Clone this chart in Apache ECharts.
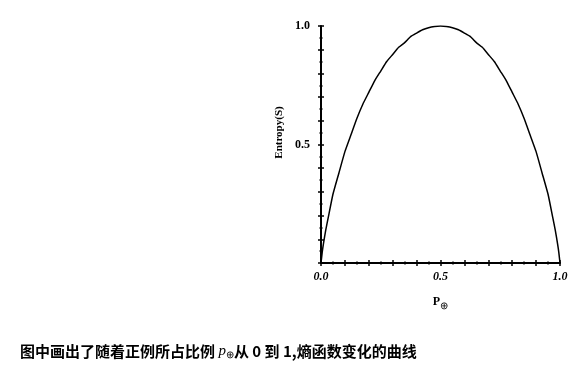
<!DOCTYPE html>
<html><head><meta charset="utf-8">
<script src="https://cdn.jsdelivr.net/npm/echarts@6/dist/echarts.min.js"></script>
<style>html,body{margin:0;padding:0;background:#fff}#c{width:586px;height:369px}</style>
</head><body><div id="c"></div>
<script>
// proportion of positive examples p and entropy values
const pValues = [0, 0.005, 0.01, 0.02, 0.03, 0.05, 0.075, 0.1, 0.125, 0.15, 0.175, 0.2, 0.225, 0.25, 0.275, 0.3, 0.325, 0.35, 0.375, 0.4, 0.425, 0.45, 0.475, 0.5,
  0.525, 0.55, 0.575, 0.6, 0.625, 0.65, 0.675, 0.7, 0.725, 0.75, 0.775, 0.8, 0.825, 0.85, 0.875, 0.9, 0.925, 0.95, 0.97, 0.98, 0.99, 0.995, 1];
const entropyValues = [0, 0.045, 0.08, 0.14, 0.19, 0.29, 0.38, 0.47, 0.54, 0.61, 0.67, 0.72, 0.77, 0.81, 0.85, 0.88, 0.91, 0.93, 0.955, 0.97, 0.984, 0.993, 0.998, 1.0,
  0.998, 0.993, 0.984, 0.97, 0.955, 0.93, 0.91, 0.88, 0.85, 0.81, 0.77, 0.72, 0.67, 0.61, 0.54, 0.47, 0.38, 0.29, 0.19, 0.14, 0.08, 0.045, 0];
const xTickLabels = ['0.0', '0.5', '1.0'];
const xTickValues = [0, 0.5, 1];
const yTickLabels = ['0.5', '1.0'];
const yTickValues = [0.5, 1];
const yAxisName = 'Entropy(S)';
const captionBefore = '图中画出了随着正例所占比例 ';
const captionAfter = '从 0 到 1,熵函数变化的曲线';

const data = pValues.map((p, i) => [p, entropyValues[i]]);
function fmt(values, labels) {
  return v => { for (let i = 0; i < values.length; i++) if (Math.abs(v - values[i]) < 1e-6) return labels[i]; return ''; };
}
const serif = 'Liberation Serif';
const grid = { left: 321, top: 26, width: 239, height: 237 };
const common = { min: 0, max: 1, interval: 0.1 };
const chart = echarts.init(document.getElementById('c'));
chart.setOption({
  animation: false,
  grid: grid,
  xAxis: [
    Object.assign({
      type: 'value', position: 'bottom',
      axisLine: { show: true, lineStyle: { color: '#000', width: 2 } },
      axisTick: { show: true, length: 3, lineStyle: { color: '#000', width: 1.5 } },
      minorTick: { show: true, splitNumber: 2, length: 1.5, lineStyle: { color: '#000', width: 1.5 } },
      splitLine: { show: false },
      axisLabel: { formatter: fmt(xTickValues, xTickLabels), margin: 8, color: '#000', fontFamily: serif, fontWeight: 'bold', fontStyle: 'italic', fontSize: 12, showMinLabel: true, showMaxLabel: true },
      name: '{p|P}{s|⊕}', nameLocation: 'middle', nameGap: 30,
      nameTextStyle: { rich: { p: { fontFamily: serif, fontWeight: 'bold', fontSize: 12, color: '#000' }, s: { fontSize: 10, color: '#000', padding: [8, 0, 0, 0] } } }
    }, common),
    Object.assign({
      type: 'value', position: 'bottom',
      axisLine: { show: false },
      axisTick: { show: true, inside: true, length: 3, lineStyle: { color: '#000', width: 1.5 } },
      minorTick: { show: true, splitNumber: 2, length: 1.5, lineStyle: { color: '#000', width: 1.5 } },
      splitLine: { show: false }, axisLabel: { show: false }
    }, common)
  ],
  yAxis: [
    Object.assign({
      type: 'value', position: 'left',
      axisLine: { show: true, lineStyle: { color: '#000', width: 2 } },
      axisTick: { show: true, length: 3, lineStyle: { color: '#000', width: 1.5 } },
      minorTick: { show: true, splitNumber: 2, length: 1.5, lineStyle: { color: '#000', width: 1.5 } },
      splitLine: { show: false },
      axisLabel: { formatter: fmt(yTickValues, yTickLabels), margin: 11, color: '#000', fontFamily: serif, fontWeight: 'bold', fontSize: 12 },
      name: yAxisName, nameLocation: 'middle', nameGap: 36,
      nameTextStyle: { fontFamily: serif, fontWeight: 'bold', fontSize: 11, color: '#000', padding: [0, 0, 0, 24] }
    }, common),
    Object.assign({
      type: 'value', position: 'left',
      axisLine: { show: false },
      axisTick: { show: true, inside: true, length: 3, lineStyle: { color: '#000', width: 1.5 } },
      minorTick: { show: true, splitNumber: 2, length: 1.5, lineStyle: { color: '#000', width: 1.5 } },
      splitLine: { show: false }, axisLabel: { show: false }
    }, common)
  ],
  series: [{
    type: 'line', data: data, smooth: 0.15, showSymbol: false,
    lineStyle: { color: '#000', width: 1.5 }, z: 5
  }],
  graphic: [{
    type: 'text', left: 20, top: 344,
    style: {
      text: '{t|' + captionBefore + '}{p|p}{s|⊕}{t|' + captionAfter + '}',
      rich: {
        t: { fontFamily: 'Noto Sans CJK SC', fontWeight: 'bold', fontSize: 15, fill: '#000' },
        p: { fontFamily: serif, fontStyle: 'italic', fontSize: 15, fill: '#000' },
        s: { fontSize: 10, fill: '#000', padding: [8, 0, 0, 0] }
      }
    }
  }]
});
</script>
</body></html>
